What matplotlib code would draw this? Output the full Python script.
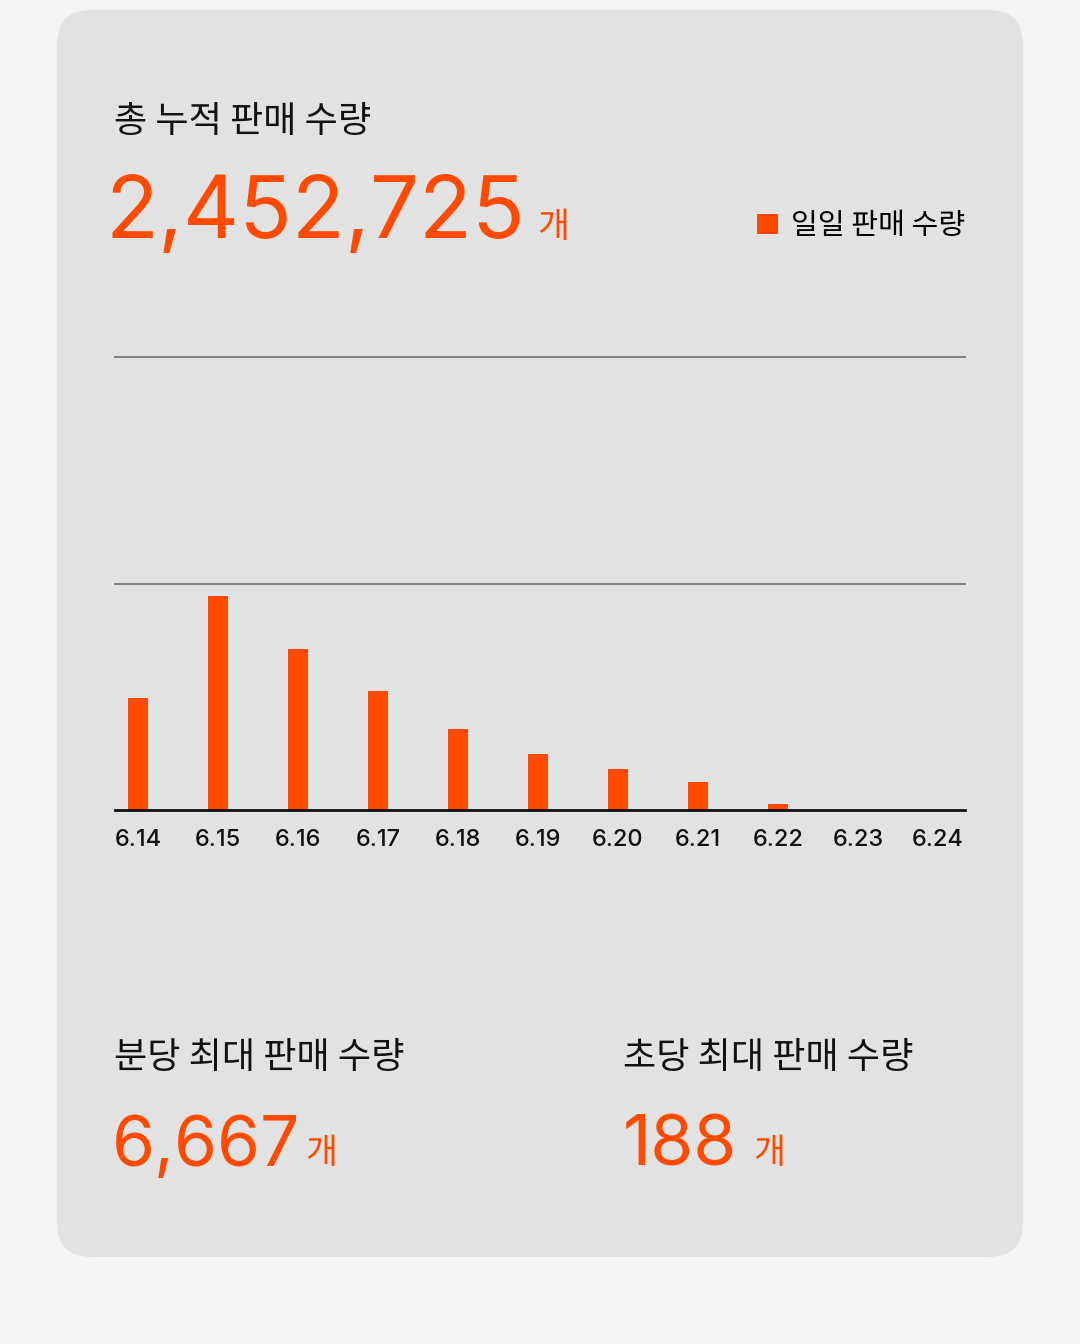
import matplotlib
matplotlib.use("Agg")
import matplotlib.pyplot as plt
from matplotlib.patches import FancyBboxPatch

# daily sales
dates = ["6.14", "6.15", "6.16", "6.17", "6.18", "6.19",
         "6.20", "6.21", "6.22", "6.23", "6.24"]
daily_sales = [335000, 641000, 483000, 357000, 244000, 168000,
               123000, 84000, 17000, 0, 0]
grid_values = [680000, 1360000]

total_sales = "2,452,725"
per_minute_max = "6,667"
per_second_max = "188"
unit = "개"

ORANGE = "#ff4a00"
KR = ["Noto Sans CJK KR", "DejaVu Sans"]
NUM = ["Inter", "DejaVu Sans"]

W, H = 1080, 1344
fig = plt.figure(figsize=(W / 100, H / 100), dpi=100)
fig.patch.set_facecolor("#f4f4f4")


def fx(px):
    return px / W


def fy(py):
    return 1 - py / H


# card
card = FancyBboxPatch((fx(57), fy(1257)), fx(1023 - 57), (1257 - 10) / H,
                      boxstyle="round,pad=0,rounding_size=0.032",
                      transform=fig.transFigure, facecolor="#e2e2e2",
                      edgecolor="none", mutation_aspect=W / H, zorder=-5)
fig.patches.append(card)

# headline numbers
fig.text(fx(114), fy(132), "총 누적 판매 수량", family=KR, fontsize=26,
         weight="medium", color="#111111", va="baseline")
fig.text(fx(106), fy(238), total_sales, family=NUM, fontsize=62.5,
         color=ORANGE, va="baseline")
fig.text(fx(537), fy(237), unit, family=KR, fontsize=25,
         color=ORANGE, va="baseline")

fig.text(fx(114), fy(1068), "분당 최대 판매 수량", family=KR, fontsize=26,
         weight="medium", color="#111111", va="baseline")
fig.text(fx(112), fy(1166), per_minute_max, family=NUM, fontsize=50,
         color=ORANGE, va="baseline")
fig.text(fx(305), fy(1163), unit, family=KR, fontsize=25,
         color=ORANGE, va="baseline")

fig.text(fx(623), fy(1068), "초당 최대 판매 수량", family=KR, fontsize=26,
         weight="medium", color="#111111", va="baseline")
fig.text(fx(623), fy(1166), per_second_max, family=NUM, fontsize=50,
         color=ORANGE, va="baseline")
fig.text(fx(753), fy(1163), unit, family=KR, fontsize=25,
         color=ORANGE, va="baseline")

# bar chart
ax = fig.add_axes([fx(115), fy(810), fx(965 - 115), (810 - 357) / H])
ax.set_facecolor("none")
x = list(range(len(dates)))
bars = ax.bar(x, daily_sales, width=0.245, color=ORANGE, zorder=2,
              label="일일 판매 수량")
ax.set_xlim(-0.29, len(dates) - 1 + 0.34)
ax.set_ylim(0, grid_values[-1])
for g in grid_values:
    ax.axhline(g, color="#777777", linewidth=1.3, clip_on=False, zorder=1)
ax.axhline(0, color="#111111", linewidth=2, clip_on=False, zorder=3)

for s in ax.spines.values():
    s.set_visible(False)
ax.set_yticks([])
ax.set_xticks(x)
ax.set_xticklabels(dates, family=NUM, fontsize=17, weight="medium",
                   color="#111111")
ax.tick_params(axis="x", length=0, pad=14)

leg = fig.legend(handles=[bars], labels=["일일 판매 수량"], loc="center right",
                 bbox_to_anchor=(fx(965), fy(226)), frameon=False,
                 prop={"family": KR, "size": 21, "weight": "medium"},
                 handlelength=0.7, handleheight=0.7, handletextpad=0.45,
                 borderpad=0, borderaxespad=0)

fig.savefig("out.png", dpi=100, facecolor=fig.get_facecolor())
